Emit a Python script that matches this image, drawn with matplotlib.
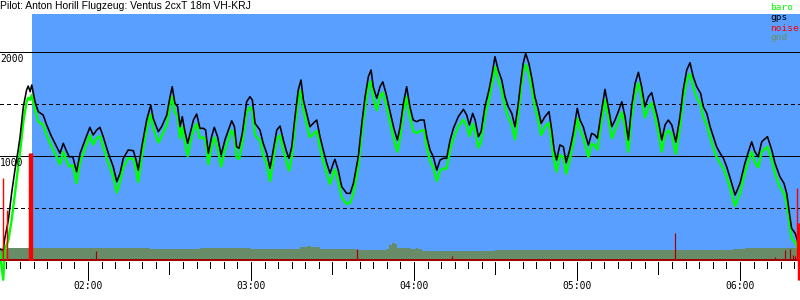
import matplotlib
matplotlib.use("Agg")
import matplotlib.pyplot as plt
from matplotlib.patches import Rectangle

# ---------------- data ----------------
title = "Pilot: Anton Horill Flugzeug: Ventus 2cxT 18m VH-KRJ"

# time in minutes after midnight, altitude in metres
times = [87.6, 88.8, 89.4, 90.7, 91.9, 93.1, 94.3, 95.0, 96.2, 97.4,
         98.0, 98.7, 99.3, 100.5, 101.7, 103.5, 104.8, 106.6, 108.5, 109.7,
         110.9, 112.2, 113.1, 114.4, 115.8, 117.1, 118.9, 120.7, 121.9, 123.2,
         124.4, 125.6, 127.5, 129.3, 130.6, 131.8, 133.0, 134.8, 136.7, 137.7,
         138.5, 139.8, 141.6, 143.1, 144.0, 145.9, 147.1, 149.0, 150.2, 151.0,
         152.0, 153.0, 153.9, 154.7, 155.7, 156.7, 157.6, 158.8, 160.0, 161.2,
         162.5, 163.3, 164.3, 165.5, 166.5, 167.7, 169.0, 170.4, 172.9, 173.9,
         174.7, 175.6, 176.8, 178.4, 179.6, 180.5, 181.5, 183.3, 184.5, 185.8,
         187.0, 188.2, 189.5, 190.7, 191.9, 193.1, 194.0, 195.0, 196.2, 197.4,
         198.4, 199.3, 200.5, 201.7, 202.9, 204.2, 205.4, 206.6, 207.9, 209.1,
         210.3, 210.9, 212.1, 213.4, 215.2, 216.5, 217.7, 219.5, 220.8, 222.0,
         223.2, 224.2, 225.0, 226.3, 227.5, 228.5, 229.7, 231.2, 232.6, 233.9,
         234.9, 236.1, 237.3, 238.5, 239.7, 241.0, 242.2, 243.7, 244.7, 245.9,
         247.1, 248.4, 249.6, 250.8, 252.0, 253.3, 254.5, 256.3, 258.2, 259.4,
         260.4, 261.6, 262.5, 263.7, 264.7, 266.1, 267.6, 268.8, 269.8, 271.0,
         272.3, 273.5, 274.7, 276.0, 277.2, 278.4, 279.4, 280.2, 281.1, 282.3,
         283.5, 284.5, 285.8, 286.8, 288.2, 289.7, 290.7, 291.6, 292.5, 293.7,
         295.0, 296.0, 297.4, 298.6, 300.1, 301.1, 302.3, 303.3, 304.2, 305.4,
         306.6, 307.5, 308.7, 310.3, 311.5, 312.8, 314.0, 315.2, 316.5, 317.7,
         318.9, 320.1, 321.4, 322.6, 323.8, 325.0, 326.3, 327.5, 328.7, 329.9,
         331.2, 332.4, 333.6, 334.9, 336.4, 337.9, 339.1, 340.4, 341.6, 342.8,
         344.1, 345.5, 346.5, 347.8, 349.0, 350.2, 351.4, 352.7, 353.9, 355.1,
         356.6, 358.2, 360.0, 361.8, 363.1, 364.3, 365.5, 366.7, 368.0, 370.1,
         371.7, 372.9, 374.7, 376.2, 377.2, 378.2, 379.0, 380.3, 381.1, 381.8]

gps = [106, 96, 212, 385, 644, 865, 1058, 1186, 1474, 1635,
       1673, 1618, 1683, 1522, 1426, 1394, 1298, 1186, 1089, 1026,
       1122, 1041, 993, 993, 849, 1026, 1154, 1276, 1202, 1250,
       1276, 1186, 1026, 897, 753, 834, 978, 1058, 1051, 962,
       865, 1089, 1346, 1490, 1362, 1234, 1282, 1394, 1570, 1666,
       1507, 1474, 1282, 1378, 1234, 1122, 1218, 1346, 1404, 1266,
       1266, 1250, 1026, 1186, 1276, 1186, 1010, 1154, 1339, 1282,
       1089, 1074, 1218, 1522, 1570, 1538, 1314, 1250, 1122, 1026,
       882, 1058, 1250, 1288, 1154, 1041, 978, 1089, 1378, 1635,
       1731, 1538, 1410, 1282, 1314, 1346, 1186, 1058, 930, 834,
       930, 968, 865, 705, 641, 641, 737, 993, 1314, 1570,
       1762, 1827, 1666, 1555, 1666, 1714, 1603, 1426, 1266, 1154,
       1282, 1507, 1666, 1474, 1346, 1330, 1346, 1346, 1186, 1058,
       993, 865, 962, 978, 978, 1154, 1266, 1378, 1449, 1394,
       1298, 1410, 1346, 1186, 1234, 1474, 1635, 1795, 1955, 1827,
       1731, 1570, 1474, 1410, 1282, 1507, 1731, 1891, 1987, 1891,
       1731, 1570, 1442, 1314, 1378, 1426, 1250, 1058, 962, 1106,
       1089, 936, 1067, 1218, 1459, 1346, 1282, 1186, 1106, 1218,
       1202, 1170, 1378, 1641, 1474, 1282, 1346, 1426, 1522, 1378,
       1154, 1474, 1699, 1805, 1666, 1474, 1570, 1609, 1474, 1346,
       1154, 1298, 1346, 1298, 1135, 1378, 1635, 1827, 1897, 1762,
       1666, 1603, 1474, 1410, 1282, 1186, 1089, 1026, 978, 897,
       769, 625, 737, 930, 1041, 1137, 1041, 993, 1137, 1186,
       1058, 930, 801, 737, 641, 449, 305, 257, 192, 96]

baro = [67, -190, 100, 192, 385, 635, 900, 1040, 1330, 1520,
        1560, 1540, 1585, 1440, 1330, 1300, 1200, 1090, 990, 920,
        1040, 950, 900, 910, 740, 940, 1070, 1200, 1110, 1170,
        1190, 1090, 930, 800, 650, 750, 890, 980, 970, 860,
        750, 1000, 1260, 1400, 1270, 1130, 1190, 1300, 1480, 1570,
        1420, 1380, 1170, 1280, 1130, 1000, 1120, 1250, 1310, 1170,
        1180, 1150, 920, 1090, 1180, 1080, 900, 1060, 1250, 1180,
        990, 970, 1120, 1420, 1470, 1430, 1200, 1150, 1010, 920,
        760, 960, 1160, 1200, 1050, 940, 860, 990, 1280, 1530,
        1630, 1440, 1300, 1180, 1210, 1240, 1080, 950, 830, 730,
        830, 870, 760, 600, 540, 550, 640, 900, 1220, 1470,
        1660, 1720, 1560, 1440, 1570, 1610, 1500, 1320, 1160, 1040,
        1180, 1410, 1570, 1370, 1240, 1220, 1240, 1250, 1080, 950,
        890, 760, 860, 880, 880, 1060, 1170, 1280, 1350, 1290,
        1190, 1310, 1240, 1080, 1140, 1380, 1540, 1700, 1860, 1730,
        1630, 1470, 1370, 1300, 1160, 1410, 1640, 1800, 1880, 1790,
        1630, 1470, 1340, 1200, 1280, 1320, 1140, 950, 850, 1010,
        990, 830, 970, 1120, 1360, 1250, 1180, 1080, 990, 1120,
        1100, 1060, 1280, 1540, 1370, 1170, 1250, 1330, 1420, 1280,
        1040, 1380, 1600, 1700, 1570, 1370, 1470, 1510, 1370, 1240,
        1040, 1200, 1250, 1200, 1020, 1280, 1540, 1730, 1790, 1660,
        1560, 1500, 1370, 1300, 1180, 1080, 990, 930, 880, 800,
        670, 520, 640, 840, 950, 1040, 940, 890, 1040, 1090,
        960, 830, 700, 640, 540, 350, 210, 170, 120, 60]

gnd_times = [87.6, 90.6, 101.6, 103.8, 124.4, 142.8, 161.2, 179.6, 198.0, 198.8,
             200.6, 202.1, 205.4, 218.7, 229.7, 230.8, 231.9, 233.0, 233.7, 237.8,
             238.5, 240.7, 241.5, 242.9, 269.8, 308.5, 337.9, 357.4, 361.8, 382.1]
gnd = [106, 115, 120, 115, 115, 110, 112, 110, 125, 128,
       135, 125, 110, 100, 105, 140, 163, 150, 115, 120,
       105, 115, 105, 90, 95, 100, 96, 106, 118, 118]

noise_times = [88.7, 90.2, 98.3, 98.7, 99.0, 99.4, 381.0, 381.5, 381.9, 381.5, 381.9]
noise = [790, 480, 1030, 1030, 1030, 1030, 692, 356, 356, -192, -192]

noise_low_times = [122.9, 219.0, 254.0, 336.1, 372.9, 376.6, 378.4, 379.5, 380.3]
noise_low = [87, 106, 38, 260, 30, 96, 106, 50, 40]

task_start = 99.4      # start of the shaded (task) period
task_top = 2365        # top of the shaded area
alt_solid = [1000, 2000]
alt_dashed = [500, 1500]
alt_labels = ["1000", "2000"]
hour_minutes = [120, 180, 240, 300, 360]
hour_labels = ["02:00", "03:00", "04:00", "05:00", "06:00"]
legend_names = ["baro", "gps", "noise", "gnd"]

# ---------------- style ----------------
T_MIN, T_MAX = 87.61, 382.09
A_MIN, A_MAX = -384.6, 2500.0
PX = 0.72  # points per pixel at 100 dpi
BLUE = "#599fff"
GREEN = "#00ff00"
GND = "#688c68"
DARKRED = "#a00000"
legend_colors = [GREEN, "#000000", "#ff0000", "#6b8e5b"]
MONO = "DejaVu Sans Mono"

fig = plt.figure(figsize=(8, 3), dpi=100)
ax = fig.add_axes([0, 0, 1, 1])
ax.set_xlim(T_MIN, T_MAX)
ax.set_ylim(A_MIN, A_MAX)
ax.axis("off")

ax.add_patch(Rectangle((task_start, 0), T_MAX - task_start, task_top,
                       facecolor=BLUE, edgecolor="none", zorder=0))
ax.fill_between(gnd_times, 0, gnd, step="post", color=GND, lw=0, zorder=1)

for a in alt_solid:
    ax.axhline(a, color="black", lw=PX, zorder=2, antialiased=False)
for a in alt_dashed:
    ax.axhline(a, color="black", lw=PX, dashes=(4, 4), zorder=2, antialiased=False)

ax.plot(times, baro, color=GREEN, lw=2.4 * PX, zorder=3)
ax.plot(times, gps, color="black", lw=1.6 * PX, zorder=4)

ax.vlines(noise_low_times, 0, noise_low, color=DARKRED, lw=1.2 * PX, zorder=5)
ax.axhline(0, color=DARKRED, lw=2 * PX, zorder=5)
ax.vlines(noise_times, 0, noise, color="#ff0000", lw=1.4 * PX, zorder=6)

# time axis ticks (5 min minor, 30 min medium, 60 min major)
px_alt = (A_MAX - A_MIN) / 300.0
for m in range(90, 381, 5):
    if m % 60 == 0:
        length = 18
    elif m % 30 == 0 and m > 120:
        length = 12
    else:
        length = 6
    ax.vlines(m, -2 * px_alt, -(2 + length) * px_alt, color="black", lw=PX,
              zorder=6, antialiased=False)

for m, lab in zip(hour_minutes, hour_labels):
    ax.text(m, -20.5 * px_alt, lab, ha="center", va="top", family=MONO,
            fontsize=7, color="black")

for a, lab in zip(alt_solid, alt_labels):
    ax.text(T_MIN + 0.1, a - 1.5 * px_alt, lab, ha="left", va="top", family=MONO,
            fontsize=7, color="black", zorder=7)

fig.text(0.0, 1 - 1 / 300, title, ha="left", va="top", family="Liberation Sans",
         fontsize=7.5, color="black")

legend_baselines = [10, 20.5, 31, 39.5]
for name, col, yb in zip(legend_names, legend_colors, legend_baselines):
    fig.text(770 / 800, 1 - yb / 300, name, ha="left", va="baseline", family=MONO,
             fontsize=6.8, color=col)

fig.savefig("out.png", dpi=100)
